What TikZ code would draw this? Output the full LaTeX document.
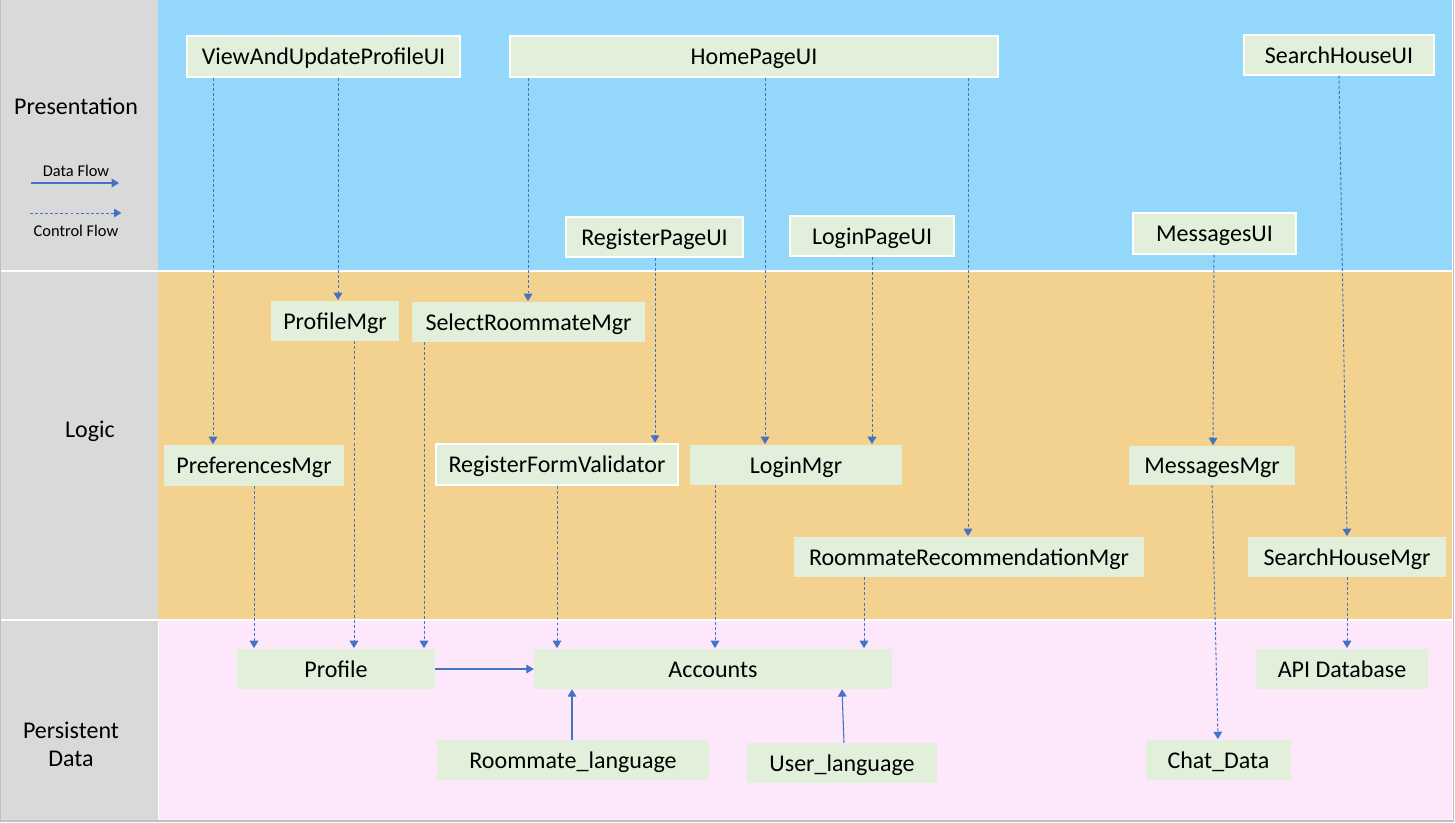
\documentclass[tikz,border=0pt]{standalone}
\usepackage{fontspec}
\setmainfont{Carlito}
\usetikzlibrary{arrows.meta}
\definecolor{presbg}{RGB}{147,215,250}
\definecolor{logicbg}{RGB}{243,209,143}
\definecolor{databg}{RGB}{253,231,250}
\definecolor{layerbg}{RGB}{217,217,217}
\definecolor{boxbg}{RGB}{226,239,218}
\definecolor{flowcol}{RGB}{68,114,196}
\definecolor{framecol}{RGB}{191,191,191}
\tikzset{
  >={Triangle[length=5.5pt,width=6.5pt]},
  font=\fontsize{18}{21}\selectfont,
  box/.style={fill=boxbg, draw=none, inner sep=0pt, align=center, text=black,
    text height=14.5pt, text depth=2.5pt},
  uibox/.style={box, draw=white, line width=1.1pt},
  wh/.style 2 args={minimum width=#1*0.75pt, minimum height=#2*0.75pt},
  layerlbl/.style={align=center, inner sep=0pt},
  legendlbl/.style={font=\fontsize{12.3}{14}\selectfont, inner sep=0pt},
  % arrow "lanes"
  dataflow/.style={->, flowcol, line width=0.8pt},
  ctrlflow/.style={->, flowcol, line width=0.75pt, dash pattern=on 2.2pt off 1.6pt,
    shorten >=0.5pt},
}

\begin{document}
\begin{tikzpicture}[x=0.75pt, y=-0.75pt]
\useasboundingbox (0,0) rectangle (1455,822);

% ---------- layers ----------
\fill[layerbg] (0,0) rectangle (158,821);
\fill[presbg]  (158,0) rectangle (1452,271);
\fill[logicbg] (158,271) rectangle (1452,620);
\fill[databg]  (159,620) rectangle (1452,821);
\draw[white, line width=1.1pt] (0,271) -- (1452,271) (0,620) -- (1452,620);
\draw[framecol, line width=1.2pt] (0.5,0) -- (0.5,821) -- (1453.5,821) -- (1453.5,0);

\node[layerlbl] (Lpres)  at (76,106) {Presentation};
\node[layerlbl] (Llogic) at (90,431) {Logic};
\node[layerlbl] (Ldata)  at (71,744) {Persistent\\Data};

% ---------- legend ----------
\node[legendlbl] (LgData) at (76,171) {Data Flow};
\node[legendlbl] (LgCtrl) at (76,231) {Control Flow};
\coordinate (dfA) at (31,183); \coordinate (dfB) at (119,183);
\coordinate (cfA) at (30,213); \coordinate (cfB) at (122,213);
\draw[dataflow] (dfA) -- (dfB);
\draw[ctrlflow] (cfA) -- (cfB);

% ---------- presentation ----------
\node[uibox, wh={273}{41}] (VAUP)     at (323.5,56.5) {ViewAndUpdateProfileUI};
\node[uibox, wh={488}{41}] (HomeUI)   at (754,56.5)   {HomePageUI};
\node[uibox, wh={190}{40}] (SearchUI) at (1339,55)    {SearchHouseUI};
\node[uibox, wh={177}{40}] (RegUI)    at (654.5,237)  {RegisterPageUI};
\node[uibox, wh={164}{40}] (LoginUI)  at (872,236)    {LoginPageUI};
\node[uibox, wh={163}{41}] (MsgUI)    at (1214.5,233.5) {MessagesUI};

% ---------- logic ----------
\node[box, wh={128}{40}] (ProfMgr)   at (335,321)    {ProfileMgr};
\node[box, wh={233}{40}] (SelMgr)    at (528.5,322)  {SelectRoommateMgr};
\node[box, wh={180}{41}] (PrefMgr)   at (254,465.5)  {PreferencesMgr};
\node[uibox, wh={242}{41}] (RegVal)  at (557,464.5)  {RegisterFormValidator};
\node[box, wh={212}{40}] (LoginMgr)  at (796,465)    {LoginMgr};
\node[box, wh={166}{39}] (MsgMgr)    at (1212,465.5) {MessagesMgr};
\node[box, wh={350}{40}] (RecMgr)    at (969,557)    {RoommateRecommendationMgr};
\node[box, wh={198}{40}] (SearchMgr) at (1347,557)   {SearchHouseMgr};

% ---------- persistent data ----------
\node[box, wh={198}{40}] (Profile)  at (336,669)    {Profile};
\node[box, wh={358}{40}] (Accounts) at (713,669)    {Accounts};
\node[box, wh={172}{40}] (APIdb)    at (1342,669)   {API Database};
\node[box, wh={272}{40}] (RmLang)   at (573,760)    {Roommate\_language};
\node[box, wh={190}{40}] (UsrLang)  at (842,763)    {User\_language};
\node[box, wh={145}{40}] (Chat)     at (1218.5,760) {Chat\_Data};

% ---------- control flow (dotted) ----------
\foreach \s/\xs/\t/\xt in {VAUP/213/PrefMgr/213, VAUP/338/ProfMgr/338,
    HomeUI/528/SelMgr/528, HomeUI/765/LoginMgr/765, HomeUI/968/RecMgr/968,
    SearchUI/1339/SearchMgr/1347, RegUI/655/RegVal/655, LoginUI/872/LoginMgr/872,
    MsgUI/1214/MsgMgr/1213, PrefMgr/254/Profile/254, ProfMgr/354/Profile/354,
    SelMgr/424/Profile/424, RegVal/557/Accounts/557, LoginMgr/715/Accounts/715,
    RecMgr/864/Accounts/864, MsgMgr/1212/Chat/1218, SearchMgr/1347/APIdb/1347}{
  \draw[ctrlflow] (\s.south -| \xs,0) -- (\t.north -| \xt,0);}

% ---------- data flow (solid) ----------
\draw[dataflow] (Profile.east) -- (Accounts.west);
\draw[dataflow] (RmLang.north -| 572,0) -- (Accounts.south -| 572,0);
\draw[dataflow] (UsrLang.north -| 844,0) -- (Accounts.south -| 842,0);

\end{tikzpicture}
\end{document}
